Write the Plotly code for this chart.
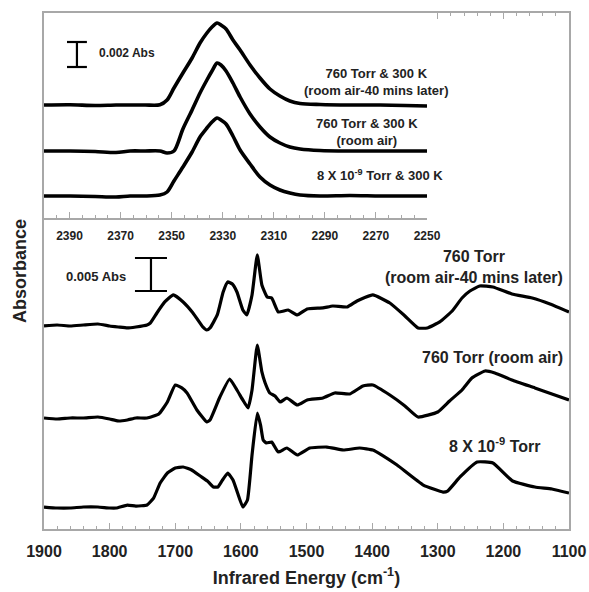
import plotly.graph_objects as go

# ---------------- main panel data (wavenumber cm-1, absorbance in mAbs relative to baseline)
wn_air40 = [1900, 1880, 1860, 1840, 1818, 1800, 1787, 1773, 1760, 1743, 1738, 1728, 1716, 1703, 1688, 1673,
            1658, 1652, 1647, 1636, 1627, 1620, 1613, 1606, 1597, 1591, 1583, 1575, 1568, 1560, 1553, 1543, 1528,
            1514, 1499, 1475, 1460, 1438, 1423, 1399, 1373, 1350, 1330, 1316, 1297, 1278, 1263, 1251, 1236,
            1216, 1187, 1156, 1129, 1100]
abs_air40 = [0, 0.15, 0, 0.15, 0.30, 0, -0.15, -0.30, -0.15, 0.15, 0.45, 1.97, 3.64, 4.70, 3.64, 1.97,
             -0.15, -0.61, -0.30, 1.67, 5.15, 6.67, 6.36, 5.15, 2.42, 1.67, 4.70, 10.76, 6.21, 4.39, 4.24, 2.12, 2.42,
             1.67, 2.58, 2.73, 3.03, 2.88, 3.79, 4.70, 3.48, 1.52, -0.30, -0.30, 0.61, 2.27, 4.24, 5.30, 6.06,
             5.91, 4.85, 4.24, 3.33, 2.12]

wn_air = [1900, 1880, 1860, 1840, 1818, 1800, 1787, 1773, 1760, 1743, 1725, 1712, 1700, 1690, 1682, 1667,
          1652, 1647, 1632, 1617, 1606, 1597, 1589, 1583, 1575, 1568, 1563, 1556, 1548, 1540, 1530, 1514,
          1499, 1475, 1457, 1434, 1414, 1399, 1373, 1350, 1330, 1300, 1282, 1263, 1248, 1228, 1213, 1187,
          1152, 1126, 1100]
abs_air = [0, -0.15, 0, 0, 0.15, -0.15, -0.45, -0.30, 0, 0, 0.61, 2.42, 5.00, 4.55, 3.79, 1.21,
           -0.61, -0.30, 3.18, 5.91, 4.24, 2.73, 1.52, 4.24, 11.06, 6.97, 5.30, 3.79, 3.33, 2.42, 3.03, 1.97,
           2.73, 3.03, 3.79, 3.64, 4.85, 5.00, 3.48, 1.82, 0.15, 0.91, 2.58, 4.24, 6.06, 7.12, 6.82, 5.76,
           4.55, 3.64, 2.73]

wn_vac = [1900, 1880, 1860, 1840, 1818, 1800, 1790, 1773, 1760, 1743, 1733, 1723, 1712, 1700, 1688, 1675,
          1662, 1651, 1642, 1635, 1628, 1620, 1612, 1605, 1597, 1590, 1583, 1575, 1570, 1566, 1561, 1553,
          1543, 1530, 1514, 1495, 1469, 1444, 1419, 1399, 1385, 1362, 1322, 1292, 1285, 1266, 1240, 1216,
          1186, 1152, 1126, 1100]
abs_vac = [0, -0.15, -0.15, 0, 0, -0.15, -0.15, 0.30, 0.15, 0.30, 1.36, 3.64, 5.15, 5.91, 6.06, 5.61,
           4.70, 3.94, 3.03, 3.03, 4.09, 5.15, 4.09, 2.12, 0, 1.06, 7.88, 14.24, 12.42, 10.15, 9.70, 9.85,
           8.33, 8.94, 7.88, 8.94, 9.09, 8.64, 8.94, 8.64, 7.88, 6.36, 3.33, 2.27, 2.42, 4.55, 6.82, 6.67,
           3.94, 3.03, 2.73, 2.12]

main_offsets = [30.76, 16.82, 3.33]          # mAbs, vertical stacking offsets
main_labels = ["760 Torr<br>(room air-40 mins later)", "760 Torr (room air)", "8 X 10<sup>-9</sup> Torr"]

# ---------------- inset data (CO2 region)
wn_inset = [2400.0, 2389.8, 2380.0, 2371.8, 2366.3, 2360.4, 2354.6, 2351.8, 2349.1, 2345.6, 2342.0, 2338.9,
            2336.2, 2334.2, 2332.2, 2330.7, 2328.7, 2326.0, 2323.2, 2319.3, 2315.4, 2311.5, 2307.6, 2303.7,
            2299.7, 2291.9, 2280.2, 2268.4, 2258.6, 2250.0]
ins_air40 = [0, 0.02, -0.04, 0, 0, 0, 0.02, 0.40, 1.36, 2.56, 3.76, 4.96, 5.76, 6.24, 6.56, 6.40, 6.08, 5.20,
             4.40, 3.20, 2.16, 1.28, 0.72, 0.32, 0.12, 0.04, 0, 0, -0.04, -0.08]
ins_air = [0, 0, -0.04, -0.12, 0, 0, 0, -0.16, 0, 1.76, 3.28, 4.64, 5.68, 6.40, 7.04, 6.88, 6.40, 5.44,
           4.32, 2.96, 1.92, 1.12, 0.64, 0.32, 0.16, 0.04, 0, 0, 0, 0]
ins_vac = [0, 0, -0.04, -0.08, 0, 0, 0.08, 0.32, 1.20, 2.32, 3.52, 4.72, 5.44, 5.92, 6.24, 6.08, 5.76, 4.80,
           3.68, 2.56, 1.52, 0.88, 0.48, 0.24, 0.08, 0, 0.04, 0, 0, 0]
inset_offsets = [9.04, 5.36, 1.76]
inset_labels = ["760 Torr &amp; 300 K<br>(room air-40 mins later)", "760 Torr &amp; 300 K<br>(room air)",
                "8 X 10<sup>-9</sup> Torr &amp; 300 K"]

# scale bars (mAbs)
scale_main = 5.0
scale_inset = 2.0

FONT = "Liberation Sans, Arial, sans-serif"
GRAY = "#a8a8a8"

L, R, T, B = 44, 20, 13, 63
W, H = 589, 592

fig = go.Figure()

for wn, ab, off in zip([wn_air40, wn_air, wn_vac], [abs_air40, abs_air, abs_vac], main_offsets):
    fig.add_trace(go.Scatter(x=wn, y=[v + off for v in ab], mode="lines",
                             line=dict(color="black", width=3.2, shape="spline", smoothing=0.4),
                             xaxis="x", yaxis="y", showlegend=False, hoverinfo="skip"))

for ab, off in zip([ins_air40, ins_air, ins_vac], inset_offsets):
    fig.add_trace(go.Scatter(x=wn_inset, y=[v + off for v in ab], mode="lines",
                             line=dict(color="black", width=3.6, shape="spline", smoothing=0.8),
                             xaxis="x2", yaxis="y2", showlegend=False, hoverinfo="skip"))

# scale bars
def scale_bar(xc, half, y0, h, xa, ya, w):
    fig.add_trace(go.Scatter(x=[xc - half, xc + half, None, xc, xc, None, xc - half, xc + half],
                             y=[y0, y0, None, y0, y0 + h, None, y0 + h, y0 + h], mode="lines",
                             line=dict(color="black", width=w), xaxis=xa, yaxis=ya,
                             showlegend=False, hoverinfo="skip"))

scale_bar(1737, 24.4, 36.06, scale_main, "x", "y", 2.2)
scale_bar(2387.1, 3.9, 12.08, scale_inset, "x2", "y2", 2.2)

def P(px, py):
    return (px - L) / 525, (H - B - py) / 516

anns = []
def ann(text, px, py, size, xanchor="center"):
    x, y = P(px, py)
    anns.append(dict(text=text, x=x, y=y, xref="paper", yref="paper", xanchor=xanchor, yanchor="middle",
                     showarrow=False, font=dict(family=FONT, size=size, color="#222", weight="bold")))

ann(main_labels[0], 474, 267, 16)
ann(main_labels[1], 492, 357, 16)
ann(main_labels[2], 494, 445, 16)
ann(inset_labels[0], 376, 82, 13)
ann(inset_labels[1], 367, 132, 13)
ann(inset_labels[2], 380, 175, 13)
ann("0.002 Abs", 97, 53, 12, "left")
ann("0.005 Abs", 128, 276, 13, "right")

fig.update_layout(
    width=W, height=H,
    margin=dict(l=L, r=R, t=T, b=B, autoexpand=False),
    paper_bgcolor="white", plot_bgcolor="white",
    font=dict(family=FONT, color="#222"),
    annotations=anns,
    xaxis=dict(range=[1900, 1100], domain=[0, 1], anchor="y", showline=True, linecolor=GRAY, linewidth=1.5,
               mirror="ticks", ticks="inside", ticklen=6, tickcolor=GRAY, tickwidth=1.2,
               tick0=1100, dtick=100, showgrid=False, zeroline=False, automargin=False,
               minor=dict(ticks="inside", dtick=20, ticklen=3, tickcolor=GRAY, tickwidth=1),
               tickfont=dict(family=FONT, size=16, color="#222", weight="bold"),
               ticklabelstandoff=7,
               title=dict(text="Infrared Energy (cm<sup>-1</sup>)", standoff=12,
                          font=dict(family=FONT, size=18, color="#222", weight="bold"))),
    yaxis=dict(range=[0, 78.18], domain=[0, 1], anchor="x", showline=True, linecolor=GRAY, linewidth=1.5,
               mirror=True, ticks="", showticklabels=False, showgrid=False, zeroline=False, automargin=False,
               title=dict(text="Absorbance", standoff=11,
                          font=dict(family=FONT, size=18, color="#222", weight="bold"))),
    xaxis2=dict(range=[2400, 2250], domain=[0, 383 / 525], anchor="y2", showline=True, linecolor=GRAY,
                linewidth=1.5, ticks="inside", ticklen=6, tickcolor=GRAY, tickwidth=1.2,
                tick0=2250, dtick=20, showgrid=False, zeroline=False, automargin=False,
                minor=dict(ticks="inside", dtick=5, ticklen=3, tickcolor=GRAY, tickwidth=1),
                tickfont=dict(family=FONT, size=12, color="#222", weight="bold"),
                ticklabelstandoff=6),
    yaxis2=dict(range=[0, 16.4], domain=[311 / 516, 1], anchor="x2", visible=False, automargin=False),
)

fig.write_html("out.html")
